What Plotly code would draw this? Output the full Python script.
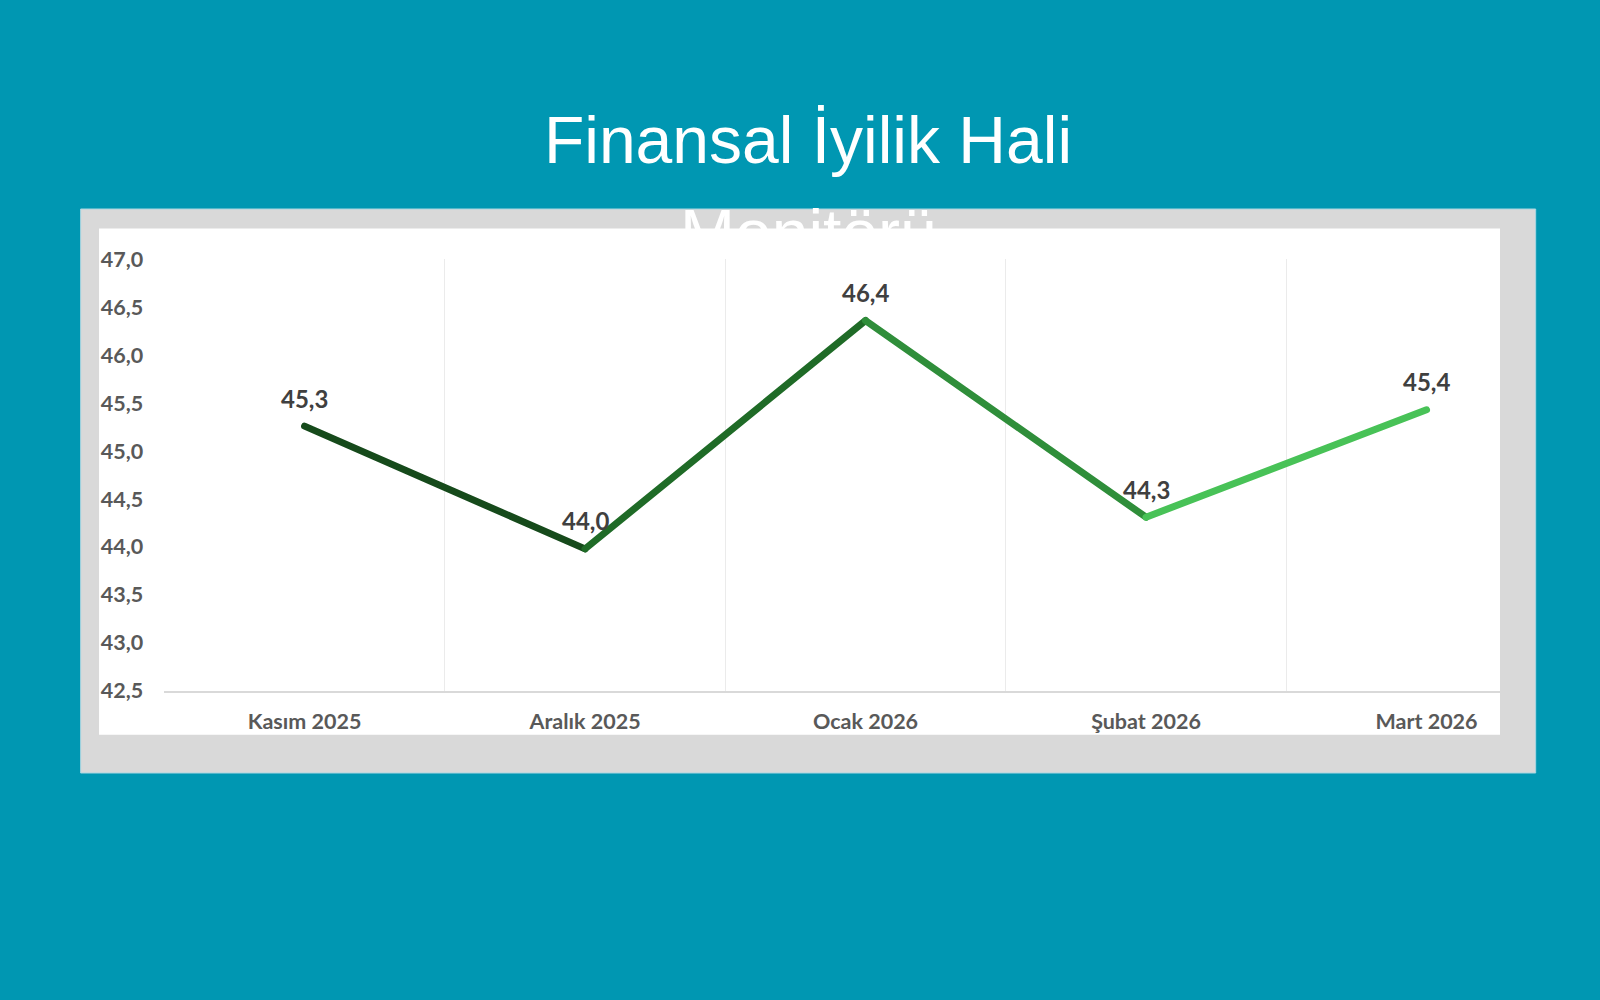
import plotly.graph_objects as go

# Finansal İyilik Hali Monitörü – monthly index values
months = ["Kasım 2025", "Aralık 2025", "Ocak 2026", "Şubat 2026", "Mart 2026"]
values = [45.26, 43.98, 46.36, 44.31, 45.43]
y_ticks = [42.5, 43.0, 43.5, 44.0, 44.5, 45.0, 45.5, 46.0, 46.5, 47.0]

# gradient of the line, dark -> light green, one colour per segment
seg_colors = ["#164a1b", "#1f6b27", "#2f8e3a", "#48c257"]

TEAL = "#0097b2"
GRAY = "#d9d9d9"
LABEL_FONT = "Lato, 'Open Sans', sans-serif"
TITLE_FONT = "'Liberation Sans', Arial, sans-serif"


def main():
    xs = list(range(len(months)))
    fig = go.Figure()

    for i, col in enumerate(seg_colors):
        fig.add_trace(go.Scatter(
            x=xs[i:i + 2], y=values[i:i + 2], mode="lines",
            line=dict(color=col, width=7), hoverinfo="skip", showlegend=False,
        ))

    # data labels above each point
    for x, v in zip(xs, values):
        fig.add_annotation(
            x=x, y=v, xref="x", yref="y", text=f"{v:.1f}".replace(".", ","),
            showarrow=False, yshift=28,
            font=dict(family=LABEL_FONT, size=24, color="#404040", weight="bold"),
        )

    # second line of the title, partly hidden behind the white chart card
    fig.add_annotation(
        x=0.505, y=0.7675, xref="paper", yref="paper", text="Monitörü",
        showarrow=False, xanchor="center", yanchor="middle",
        font=dict(family=TITLE_FONT, size=66, color="white"),
    )

    # grey frame and white card behind the chart
    fig.add_shape(type="rect", xref="paper", yref="paper", layer="below",
                  x0=0.0504, x1=0.9598, y0=0.227, y1=0.791,
                  fillcolor=GRAY, line=dict(color="#a9d6e2", width=1))
    fig.add_shape(type="rect", xref="paper", yref="paper", layer="below",
                  x0=0.0619, x1=0.9375, y0=0.2653, y1=0.7714,
                  fillcolor="white", line=dict(width=0))

    fig.update_layout(
        width=1600, height=1000,
        margin=dict(l=0, r=0, t=0, b=0, pad=0, autoexpand=False),
        paper_bgcolor=TEAL, plot_bgcolor="rgba(0,0,0,0)",
        showlegend=False,
        title=dict(
            text="Finansal İyilik Hali",
            x=0.505, xanchor="center", y=0.86, yanchor="middle",
            font=dict(family=TITLE_FONT, size=66, color="white"),
        ),
    )
    fig.update_xaxes(
        domain=[0.1027, 0.9375], range=[-0.5, 4.262], automargin=False,
        tickvals=xs, ticktext=months, showgrid=False, zeroline=False,
        showline=True, linecolor="#d9d9d9", linewidth=1.5,
        ticks="", ticklabelstandoff=11,
        tickfont=dict(family=LABEL_FONT, size=21.5, color="#595959", weight="bold"),
        minor=dict(tickvals=[-0.5, 0.5, 1.5, 2.5, 3.5], showgrid=True,
                   gridcolor="#ebebeb", gridwidth=1),
    )
    fig.update_yaxes(
        domain=[0.3092, 0.7408], range=[42.5, 47.0], automargin=False,
        tickvals=y_ticks, ticktext=[f"{t:.1f}".replace(".", ",") for t in y_ticks],
        showgrid=False, zeroline=False, showline=False, ticks="",
        ticklabelstandoff=20,
        tickfont=dict(family=LABEL_FONT, size=21.5, color="#595959", weight="bold"),
    )

    # no body margin, and round line caps like the original chart
    js = (
        "document.body.style.margin = '0';"
        "document.querySelectorAll('.scatterlayer path.js-line').forEach(function (p) {"
        "  p.style.strokeLinecap = 'round'; p.style.strokeLinejoin = 'round'; });"
    )
    fig.write_html("out.html", config={"displayModeBar": False}, post_script=js)


if __name__ == "__main__":
    main()
